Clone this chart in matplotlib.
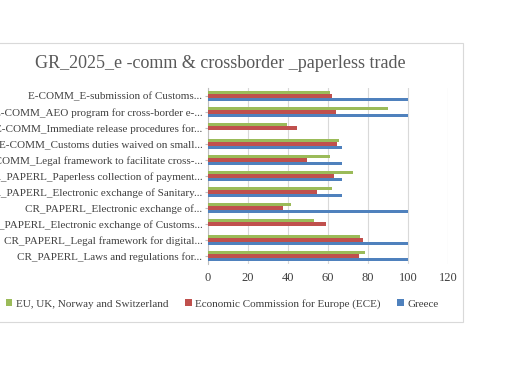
import matplotlib

matplotlib.use("Agg")
import matplotlib.pyplot as plt
import numpy as np
from matplotlib.patches import Rectangle

categories = [
    "E-COMM_E-submission of Customs...",
    "E-COMM_AEO program for cross-border e-...",
    "E-COMM_Immediate release procedures for...",
    "E-COMM_Customs duties waived on small...",
    "E-COMM_Legal framework to facilitate cross-...",
    "CR_PAPERL_Paperless collection of payment...",
    "CR_PAPERL_Electronic exchange of Sanitary...",
    "CR_PAPERL_Electronic exchange of...",
    "CR_PAPERL_Electronic exchange of Customs...",
    "CR_PAPERL_Legal framework for digital...",
    "CR_PAPERL_Laws and regulations for...",
]
eu_values = [61.2, 89.8, 39.3, 65.5, 61.0, 72.7, 62.0, 41.6, 53.0, 76.0, 78.3]
ece_values = [62.1, 64.1, 44.6, 64.5, 49.3, 62.8, 54.5, 37.4, 58.8, 77.4, 75.7]
greece_values = [100, 100, 0, 67, 67, 67, 67, 100, 0, 100, 100]
series_names = ["EU, UK, Norway and Switzerland", "Economic Commission for Europe (ECE)", "Greece"]
x_ticks = [0, 20, 40, 60, 80, 100, 120]

colors = ["#9BBB59", "#C0504D", "#4F81BD"]
font = "Liberation Serif"
text_color = "#404040"

fig = plt.figure(figsize=(5.3, 3.92), dpi=100)
fig.patch.set_facecolor("white")

# chart frame (left edge is cropped off in the reference)
fig.add_artist(Rectangle((-0.05, 70 / 392), 463 / 530 + 0.05, 279 / 392, transform=fig.transFigure,
                         fill=False, edgecolor="#d9d9d9", linewidth=0.8))

ax = fig.add_axes([208 / 530, 128 / 392, 240 / 530, 176 / 392])
y = np.arange(len(categories))
h = 0.2
for i, (vals, col) in enumerate(zip([eu_values, ece_values, greece_values], colors)):
    ax.barh(y + (i - 1) * h, vals, height=h, color=col, label=series_names[i], zorder=3)

ax.set_xlim(0, 120)
ax.set_ylim(len(categories) - 0.5, -0.5)
ax.set_xticks(x_ticks)
ax.set_xticklabels([str(t) for t in x_ticks], fontsize=9, family=font, color=text_color)
ax.set_yticks(y)
ax.set_yticklabels(categories, fontsize=8, family=font, color=text_color)
ax.tick_params(axis="x", length=0, pad=6)
ax.tick_params(axis="y", length=2, color="#bfbfbf", pad=2)
ax.grid(axis="x", color="#d9d9d9", linewidth=0.8, zorder=0)
for s in ["top", "right", "bottom"]:
    ax.spines[s].set_visible(False)
ax.spines["left"].set_color("#bfbfbf")

fig.text(220 / 530, 1 - 63 / 392, "GR_2025_e -comm & crossborder _paperless trade",
         ha="center", va="center", fontsize=13, family=font, color="#595959")

handles, labels = ax.get_legend_handles_labels()
fig.legend(handles, labels, loc="center", bbox_to_anchor=(222 / 530, 1 - 304 / 392), ncol=3,
           frameon=False, prop={"family": font, "size": 8}, handlelength=0.6, handleheight=0.6,
           handletextpad=0.3, columnspacing=1.5, labelcolor=text_color)

fig.savefig("out.png", dpi=100)
